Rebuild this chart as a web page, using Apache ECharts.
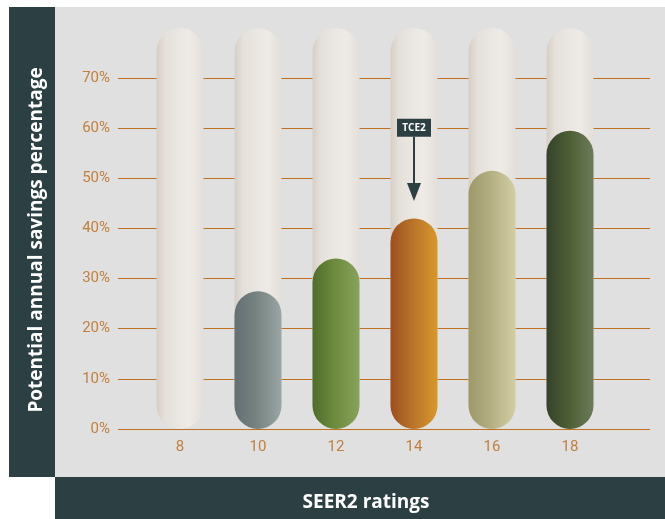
<!DOCTYPE html>
<html><head><meta charset="utf-8">
<script src="https://cdn.jsdelivr.net/npm/echarts@6/dist/echarts.min.js"></script>
<style>html,body{margin:0;padding:0;background:#fff}#c{width:665px;height:519px}</style>
</head><body><div id="c"></div>
<script>
const categories = ['8','10','12','14','16','18'];
const savings = [0, 27.5, 34, 42, 51.5, 59.5];
const trackMax = [80, 80, 80, 80, 80, 80];
const yTicks = [0,10,20,30,40,50,60,70];
const annotation = {category:'14', label:'TCE2', top:58.3, tip:47.3, box:60.1};

const barColors = [
  ['#e6e1db','#ece8e3','#f0ede9'],
  ['#636f74','#76827f','#9aa6a5'],
  ['#4f6c2c','#6b8a3c','#88a35c'],
  ['#9b4e20','#b8722a','#d8982d'],
  ['#9e996b','#b3ae82','#d2cea3'],
  ['#34422a','#4c5c33','#6c7c5a']
];
function grad(c){
  return new echarts.graphic.LinearGradient(0,0,1,0,[
    {offset:0,color:c[0]},{offset:0.45,color:c[1]},{offset:1,color:c[2]}]);
}
const trackGrad = new echarts.graphic.LinearGradient(0,0,1,0,[
  {offset:0,color:'#d6cec6'},{offset:0.18,color:'#e5e0da'},{offset:0.7,color:'#eeebe7'},{offset:1,color:'#e3ded9'}]);

const chart = echarts.init(document.getElementById('c'), null, {renderer:'canvas'});
const lab = {color:'#c08040', fontSize:15, fontFamily:'Roboto, sans-serif'};
chart.setOption({
  animation:false,
  graphic:[
    {type:'rect', z:-10, shape:{x:55,y:7,width:610,height:470}, style:{fill:'#e0e0e0'}},
    {type:'rect', z:-10, shape:{x:9,y:7,width:46,height:470}, style:{fill:'#2c4044'}},
    {type:'rect', z:-10, shape:{x:55,y:477,width:610,height:42}, style:{fill:'#2c4044'}},
    {type:'text', x:37, y:240, rotation:Math.PI/2, style:{text:'Potential annual savings percentage', fill:'#fff', font:'bold 19px "Open Sans", sans-serif', textAlign:'center', textVerticalAlign:'middle'}},
    {type:'text', x:366, y:503, style:{text:'SEER2 ratings', fill:'#fff', font:'bold 19px "Open Sans", sans-serif', textAlign:'center', textVerticalAlign:'middle'}}
  ],
  grid:[
    {left:118, right:15, top:78, bottom:90},
    {left:141, right:56, top:28, bottom:90}
  ],
  xAxis:[
    {gridIndex:0, type:'value', min:0, max:1, show:false},
    {gridIndex:1, type:'category', data:categories, axisLine:{show:false}, axisTick:{show:false},
     axisLabel:Object.assign({margin:11}, lab)}
  ],
  yAxis:[
    {gridIndex:0, type:'value', min:0, max:70, interval:10,
     axisLine:{show:false}, axisTick:{show:false},
     axisLabel:Object.assign({formatter:v=>v+'%', margin:8}, lab),
     splitLine:{lineStyle:{color:'#bf6f22', width:1}}},
    {gridIndex:1, type:'value', min:0, max:80, show:false, splitLine:{show:false}}
  ],
  series:[
    {type:'bar', xAxisIndex:1, yAxisIndex:1, barWidth:47, barGap:'-100%', z:2,
     data:trackMax.map(v=>({value:v})),
     itemStyle:{color:trackGrad, borderRadius:23.5}},
    {type:'bar', xAxisIndex:1, yAxisIndex:1, barWidth:47, barGap:'-100%', z:3,
     data:savings.map((v,i)=>({value:v, itemStyle:{color:grad(barColors[i])}})),
     itemStyle:{borderRadius:23.5},
     markLine:{silent:true, symbol:['none','triangle'], symbolSize:[14,18],
       lineStyle:{color:'#2c4044', width:2, type:'solid'}, label:{show:false},
       data:[[{coord:[annotation.category, annotation.top]},{coord:[annotation.category, annotation.tip]}]]},
     markPoint:{silent:true, symbol:'rect', symbolSize:[34,18],
       itemStyle:{color:'#2c4044'},
       label:{show:true, color:'#fff', fontSize:10, fontWeight:'bold', fontFamily:'"Open Sans", sans-serif', formatter:annotation.label},
       data:[{coord:[annotation.category, annotation.box]}]}
    }
  ]
});
</script></body></html>
